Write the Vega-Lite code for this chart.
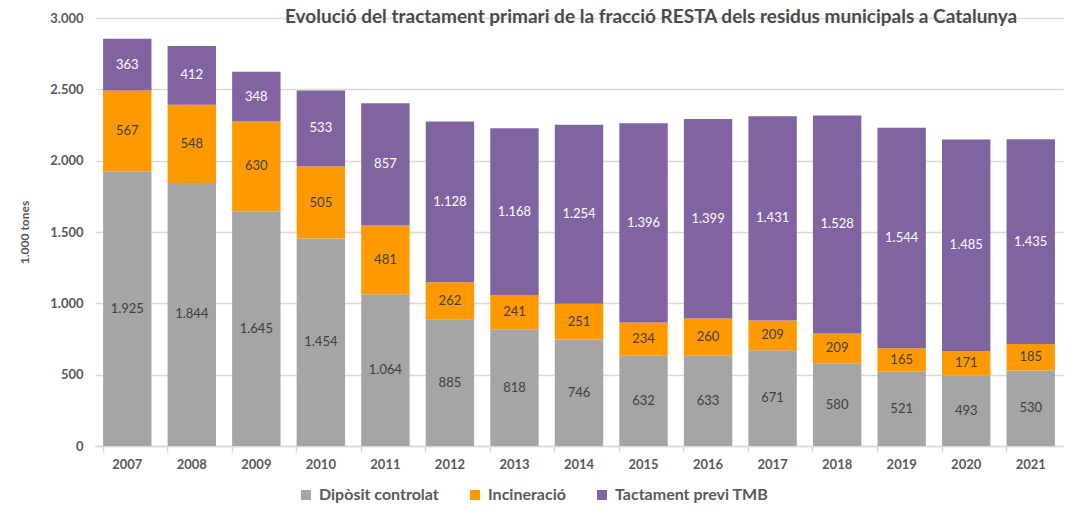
{
  "$schema": "https://vega.github.io/schema/vega-lite/v6.json",
  "width": 968,
  "height": 428,
  "autosize": "none",
  "padding": {"left": 95, "top": 18, "right": 5, "bottom": 70},
  "background": "white",
  "config": {
    "locale": {"number": {"decimal": ",", "thousands": ".", "grouping": [3], "currency": ["", " €"]}},
    "view": {"stroke": null},
    "font": "Lato"
  },
  "title": {
    "text": "Evolució del tractament primari de la fracció RESTA dels residus municipals a Catalunya",
    "anchor": "start",
    "frame": "group",
    "dx": 190,
    "offset": -24,
    "baseline": "middle",
    "font": "Lato",
    "fontSize": 19,
    "fontWeight": "bold",
    "color": "#4a4a4a"
  },
  "data": {
    "values": [
      {"year": "2007", "cat": "Dipòsit controlat", "ord": 1, "value": 1925},
      {"year": "2007", "cat": "Incineració", "ord": 2, "value": 567},
      {"year": "2007", "cat": "Tactament previ TMB", "ord": 3, "value": 363},
      {"year": "2008", "cat": "Dipòsit controlat", "ord": 1, "value": 1844},
      {"year": "2008", "cat": "Incineració", "ord": 2, "value": 548},
      {"year": "2008", "cat": "Tactament previ TMB", "ord": 3, "value": 412},
      {"year": "2009", "cat": "Dipòsit controlat", "ord": 1, "value": 1645},
      {"year": "2009", "cat": "Incineració", "ord": 2, "value": 630},
      {"year": "2009", "cat": "Tactament previ TMB", "ord": 3, "value": 348},
      {"year": "2010", "cat": "Dipòsit controlat", "ord": 1, "value": 1454},
      {"year": "2010", "cat": "Incineració", "ord": 2, "value": 505},
      {"year": "2010", "cat": "Tactament previ TMB", "ord": 3, "value": 533},
      {"year": "2011", "cat": "Dipòsit controlat", "ord": 1, "value": 1064},
      {"year": "2011", "cat": "Incineració", "ord": 2, "value": 481},
      {"year": "2011", "cat": "Tactament previ TMB", "ord": 3, "value": 857},
      {"year": "2012", "cat": "Dipòsit controlat", "ord": 1, "value": 885},
      {"year": "2012", "cat": "Incineració", "ord": 2, "value": 262},
      {"year": "2012", "cat": "Tactament previ TMB", "ord": 3, "value": 1128},
      {"year": "2013", "cat": "Dipòsit controlat", "ord": 1, "value": 818},
      {"year": "2013", "cat": "Incineració", "ord": 2, "value": 241},
      {"year": "2013", "cat": "Tactament previ TMB", "ord": 3, "value": 1168},
      {"year": "2014", "cat": "Dipòsit controlat", "ord": 1, "value": 746},
      {"year": "2014", "cat": "Incineració", "ord": 2, "value": 251},
      {"year": "2014", "cat": "Tactament previ TMB", "ord": 3, "value": 1254},
      {"year": "2015", "cat": "Dipòsit controlat", "ord": 1, "value": 632},
      {"year": "2015", "cat": "Incineració", "ord": 2, "value": 234},
      {"year": "2015", "cat": "Tactament previ TMB", "ord": 3, "value": 1396},
      {"year": "2016", "cat": "Dipòsit controlat", "ord": 1, "value": 633},
      {"year": "2016", "cat": "Incineració", "ord": 2, "value": 260},
      {"year": "2016", "cat": "Tactament previ TMB", "ord": 3, "value": 1399},
      {"year": "2017", "cat": "Dipòsit controlat", "ord": 1, "value": 671},
      {"year": "2017", "cat": "Incineració", "ord": 2, "value": 209},
      {"year": "2017", "cat": "Tactament previ TMB", "ord": 3, "value": 1431},
      {"year": "2018", "cat": "Dipòsit controlat", "ord": 1, "value": 580},
      {"year": "2018", "cat": "Incineració", "ord": 2, "value": 209},
      {"year": "2018", "cat": "Tactament previ TMB", "ord": 3, "value": 1528},
      {"year": "2019", "cat": "Dipòsit controlat", "ord": 1, "value": 521},
      {"year": "2019", "cat": "Incineració", "ord": 2, "value": 165},
      {"year": "2019", "cat": "Tactament previ TMB", "ord": 3, "value": 1544},
      {"year": "2020", "cat": "Dipòsit controlat", "ord": 1, "value": 493},
      {"year": "2020", "cat": "Incineració", "ord": 2, "value": 171},
      {"year": "2020", "cat": "Tactament previ TMB", "ord": 3, "value": 1485},
      {"year": "2021", "cat": "Dipòsit controlat", "ord": 1, "value": 530},
      {"year": "2021", "cat": "Incineració", "ord": 2, "value": 185},
      {"year": "2021", "cat": "Tactament previ TMB", "ord": 3, "value": 1435}
    ]
  },
  "transform": [
    {"stack": "value", "groupby": ["year"], "sort": [{"field": "ord"}], "as": ["v0", "v1"]},
    {"calculate": "(datum.v0 + datum.v1) / 2", "as": "mid"}
  ],
  "encoding": {
    "x": {
      "field": "year",
      "type": "nominal",
      "title": null,
      "scale": {"paddingInner": 0.25, "paddingOuter": 0.125},
      "axis": {
        "labelAngle": 0,
        "bandPosition": 0,
        "domainColor": "#d9d9d9",
        "domainWidth": 1.5,
        "tickColor": "#d9d9d9",
        "tickWidth": 1.5,
        "tickSize": 6,
        "labelFont": "Lato",
        "labelFontSize": 13,
        "labelFontWeight": "bold",
        "labelColor": "#595959",
        "labelPadding": 6
      }
    }
  },
  "layer": [
    {
      "mark": {"type": "bar"},
      "encoding": {
        "y": {
          "field": "v0",
          "type": "quantitative",
          "scale": {"domain": [0, 3000]},
          "title": "1.000 tones",
          "axis": {
            "values": [0, 500, 1000, 1500, 2000, 2500, 3000],
            "format": ",d",
            "domain": false,
            "ticks": false,
            "gridColor": "#d9d9d9",
            "gridWidth": 1.5,
            "labelFont": "Lato",
            "labelFontSize": 13,
            "labelFontWeight": "bold",
            "labelColor": "#595959",
            "labelPadding": 12,
            "titleFont": "Lato",
            "titleFontSize": 12,
            "titleFontWeight": "bold",
            "titleColor": "#595959",
            "titlePadding": 18
          }
        },
        "y2": {"field": "v1"},
        "color": {
          "field": "cat",
          "type": "nominal",
          "sort": ["Dipòsit controlat", "Incineració", "Tactament previ TMB"],
          "scale": {
            "domain": ["Dipòsit controlat", "Incineració", "Tactament previ TMB"],
            "range": ["#a5a5a5", "#ff9900", "#8064a2"]
          },
          "legend": {
            "title": null,
            "orient": "none",
            "direction": "horizontal",
            "legendX": 203,
            "legendY": 469,
            "symbolType": "square",
            "symbolSize": 100,
            "symbolStrokeWidth": 0,
            "labelFont": "Lato",
            "labelFontSize": 16,
            "labelFontWeight": "bold",
            "labelColor": "#595959",
            "columnPadding": 28,
            "labelOffset": 5
          }
        }
      }
    },
    {
      "mark": {"type": "text", "font": "Lato", "fontSize": 13, "baseline": "middle"},
      "encoding": {
        "y": {"field": "mid", "type": "quantitative"},
        "text": {"field": "value", "type": "quantitative", "format": ",d"},
        "color": {
          "condition": {"test": "datum.cat == 'Tactament previ TMB'", "value": "#ffffff"},
          "value": "#404040"
        }
      }
    }
  ]
}
